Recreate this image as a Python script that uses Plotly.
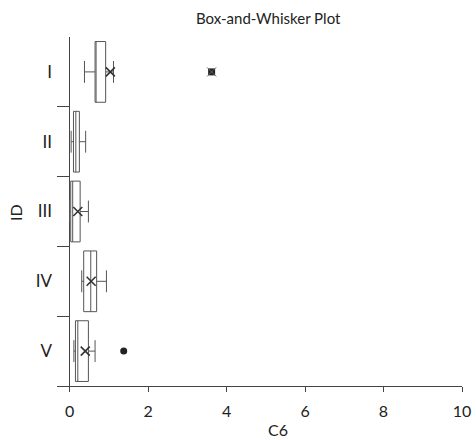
import plotly.graph_objects as go

categories = ["I", "II", "III", "IV", "V"]
q1 = [0.65, 0.10, 0.03, 0.36, 0.15]
median = [0.65, 0.16, 0.08, 0.54, 0.21]
q3 = [0.92, 0.25, 0.27, 0.69, 0.48]
lower = [0.38, 0.04, 0.0, 0.31, 0.11]
upper = [1.12, 0.41, 0.48, 0.94, 0.65]
mean_cats = ["I", "III", "IV", "V"]
means = [1.04, 0.21, 0.55, 0.40]
outlier_cats = ["I", "V"]
outliers = [3.62, 1.38]

LINE = "#555555"
AX = "#444444"
TXT = "#222222"
FONT = "Lato"

fig = go.Figure()
fig.add_trace(go.Box(
    y=categories, q1=q1, median=median, q3=q3,
    lowerfence=lower, upperfence=upper,
    orientation="h", boxpoints=False,
    line=dict(color=LINE, width=1), fillcolor="white",
    width=0.87, whiskerwidth=0.36, showlegend=False,
))
fig.add_trace(go.Scatter(
    x=means, y=mean_cats, mode="markers",
    marker=dict(symbol="x-thin-open", size=9, color="#333333",
                line=dict(color="#333333", width=1.6)),
    showlegend=False,
))
fig.add_trace(go.Scatter(
    x=outliers[:1], y=outlier_cats[:1], mode="markers",
    marker=dict(symbol="square", size=7, color="#222222", line=dict(width=0)),
    showlegend=False,
))
fig.add_trace(go.Scatter(
    x=outliers[:1], y=outlier_cats[:1], mode="markers",
    marker=dict(symbol="x-thin-open", size=9, color="#666666",
                line=dict(color="#666666", width=1)),
    showlegend=False,
))
fig.add_trace(go.Scatter(
    x=outliers[1:], y=outlier_cats[1:], mode="markers",
    marker=dict(symbol="circle", size=7, color="#222222", line=dict(width=0)),
    showlegend=False,
))

fig.update_layout(
    width=476, height=440,
    margin=dict(l=57, r=14, t=37, b=54),
    paper_bgcolor="white", plot_bgcolor="white",
    font=dict(family=FONT, size=16, color=TXT),
    xaxis=dict(
        range=[-0.32, 10], tickvals=[0, 2, 4, 6, 8, 10],
        showline=True, linecolor=AX, linewidth=1, automargin=False,
        ticks="outside", ticklen=5, tickcolor=AX, ticklabelstandoff=6,
        showgrid=False, zeroline=True, zerolinecolor=AX, zerolinewidth=1,
        tickfont=dict(size=16),
    ),
    yaxis=dict(
        type="category", categoryorder="array", categoryarray=categories,
        range=[4.5, -0.5], showline=False, showgrid=False, zeroline=False,
        automargin=False,
        ticks="inside", ticklen=13, tickcolor=AX, tickson="boundaries",
        ticklabelstandoff=4, tickfont=dict(size=17),
    ),
    annotations=[
        dict(text="Box-and-Whisker Plot", x=268, y=440 - 18, showarrow=False,
             font=dict(size=15, color=TXT)),
        dict(text="C6", x=278, y=440 - 429, showarrow=False, font=dict(size=16, color=TXT)),
        dict(text="ID", x=15, y=440 - 213, showarrow=False, textangle=-90,
             font=dict(size=16, color=TXT)),
    ],
)
# convert pixel-based annotation positions to paper coords
W, H = 476, 440
L, R, T, B = 57, 14, 37, 54
pw, ph = W - L - R, H - T - B
for a in fig.layout.annotations:
    a.xref = "paper"; a.yref = "paper"
    a.x = (a.x - L) / pw
    a.y = (a.y - B) / ph
    a.xanchor = "center"; a.yanchor = "middle"

fig.write_html("out.html")
